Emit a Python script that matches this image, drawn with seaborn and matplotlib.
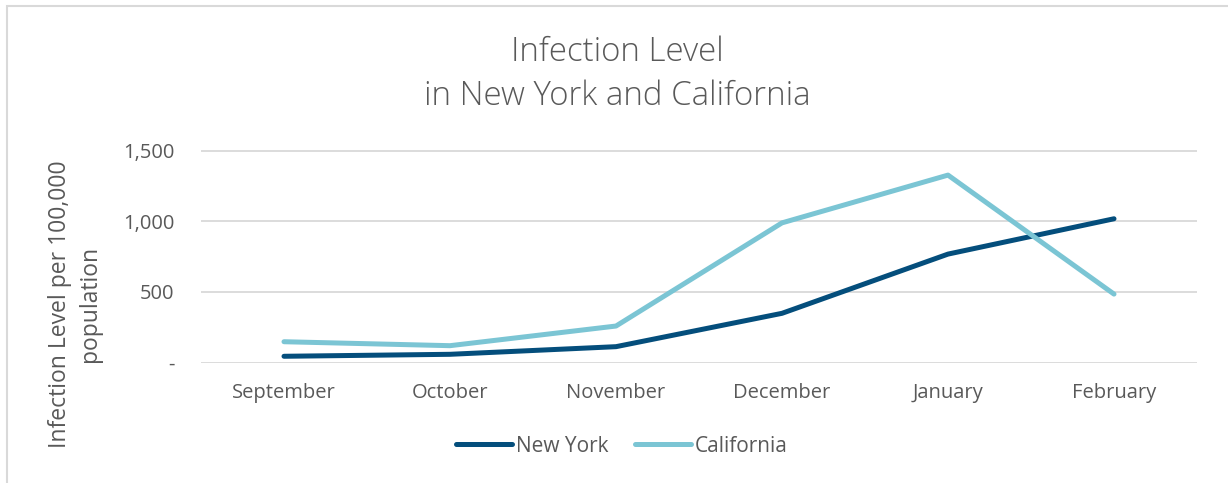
import pandas as pd
import matplotlib.pyplot as plt
import seaborn as sns
from matplotlib.patches import Rectangle
from matplotlib.ticker import FuncFormatter

months = ['September', 'October', 'November', 'December', 'January', 'February']
new_york = [44, 58, 112, 348, 767, 1017]
california = [147, 119, 258, 988, 1326, 484]

df = pd.DataFrame({
    'Month': months * 2,
    'Level': new_york + california,
    'State': ['New York'] * len(months) + ['California'] * len(months),
})

sns.set_theme(style='white')
plt.rcParams['font.family'] = ['Open Sans', 'DejaVu Sans']
grey = '#595959'

fig = plt.figure(figsize=(12.28, 4.83), dpi=100)
ax = fig.add_axes([201 / 1228, 1 - 362.5 / 483, 996 / 1228, 212 / 483])

sns.lineplot(data=df, x='Month', y='Level', hue='State', sort=False,
             palette={'New York': '#044E7C', 'California': '#7BC5D4'},
             linewidth=3.6, ax=ax, legend=True)
for line in ax.lines:
    line.set_solid_capstyle('round')
    line.set_solid_joinstyle('round')

ax.set_xlim(-0.5, 5.5)
ax.set_ylim(0, 1500)
ax.set_yticks([0, 500, 1000, 1500])
ax.yaxis.set_major_formatter(FuncFormatter(lambda v, p: '-' if v == 0 else f'{int(v):,}'))
ax.grid(axis='y', color='#D9D9D9', linewidth=1.3)
ax.set_axisbelow(True)
for s in ax.spines.values():
    s.set_visible(False)
ax.tick_params(axis='y', length=0, pad=19, labelsize=14.5, labelcolor=grey)
ax.tick_params(axis='x', length=0, pad=15, labelsize=14.5, labelcolor=grey)
ax.set_xlabel('')
ax.set_ylabel('')

fig.text(75 / 1228, 1 - 304 / 483, 'Infection Level per 100,000\npopulation',
         rotation=90, ha='center', va='center', multialignment='center',
         fontsize=16.5, color=grey, linespacing=1.3)

fig.text(617 / 1228, 1 - 74 / 483, 'Infection Level\nin New York and California',
         ha='center', va='center', multialignment='center',
         fontsize=23.8, color=grey, fontweight='light', linespacing=1.4)

handles, labels = ax.get_legend_handles_labels()
ax.legend(handles, labels, ncol=2, frameon=False, loc='center',
          bbox_to_anchor=(622 / 1228, 1 - 446 / 483), bbox_transform=fig.transFigure,
          fontsize=15, labelcolor=grey, handlelength=2.65, handletextpad=0.2,
          columnspacing=1.3)

fig.patches.append(Rectangle((7 / 1228, -0.1), 1.2, 1.1 - 6 / 483, transform=fig.transFigure,
                             fill=False, edgecolor='#D9D9D9', linewidth=1.5))

fig.savefig('out.png', dpi=100, facecolor='white')
